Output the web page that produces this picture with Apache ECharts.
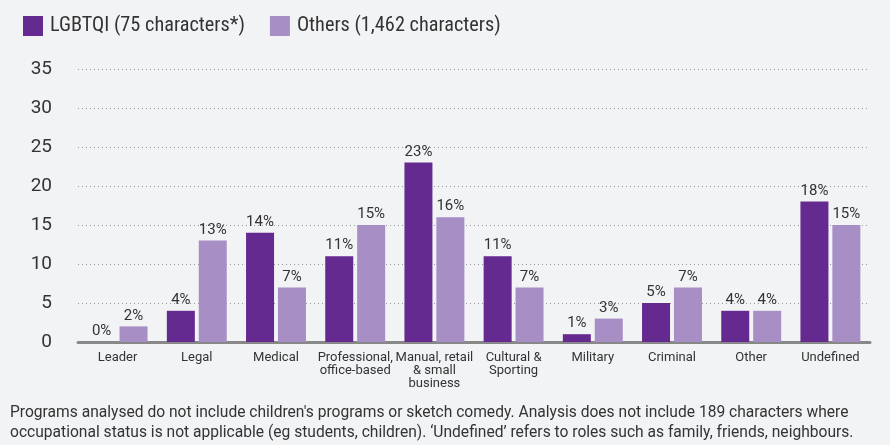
<!DOCTYPE html>
<html><head><meta charset="utf-8">
<script src="https://cdn.jsdelivr.net/npm/echarts@6/dist/echarts.min.js"></script>
<style>html,body{margin:0;padding:0;background:#f2f3f5;}#c{width:890px;height:445px;}</style>
</head><body><div id="c"></div>
<script>
const categories = ['Leader','Legal','Medical','Professional,\noffice-based','Manual, retail\n& small\nbusiness','Cultural &\nSporting','Military','Criminal','Other','Undefined'];
const lgbtqi = [0,4,14,11,23,11,1,5,4,18];
const others = [2,13,7,15,16,7,3,7,4,15];
const yTicks = [0,5,10,15,20,25,30,35];
const seriesNames = ['LGBTQI (75 characters*)','Others (1,462 characters)'];
const footnote = ["Programs analysed do not include children's programs or sketch comedy. Analysis does not include 189 characters where",
"occupational status is not applicable (eg students, children). \u2018Undefined\u2019 refers to roles such as family, friends, neighbours."];
const font = "Roboto,sans-serif";
const cfont = "'Roboto Condensed','Liberation Sans Narrow',Roboto,sans-serif";
const chart = echarts.init(document.getElementById('c'));
const lbl = {show:true, position:'top', formatter:'{c}%', color:'#333', fontSize:15, fontFamily:font, distance:3};
chart.setOption({
  backgroundColor:'#f2f3f5',
  animation:false,
  textStyle:{fontFamily:font},
  legend:{left:23, top:16, padding:0, itemWidth:20, itemHeight:20, itemGap:25, icon:'rect',
    textStyle:{fontSize:20.3, color:'#333', fontFamily:cfont, padding:[0,0,0,2]}, data:seriesNames},
  grid:{left:78, right:20, top:69, bottom:103},
  xAxis:{type:'category', data:categories,
    axisLine:{lineStyle:{color:'#888', width:3}}, axisTick:{show:false},
    axisLabel:{color:'#333', fontSize:13, lineHeight:13, margin:9, interval:0, fontFamily:font}},
  yAxis:{type:'value', min:yTicks[0], max:yTicks[yTicks.length-1], interval:5,
    axisLine:{show:false}, axisTick:{show:false},
    axisLabel:{color:'#333', fontSize:19, margin:26, fontFamily:font},
    splitLine:{lineStyle:{color:'#999', type:[1,3], width:1}}},
  series:[
    {name:seriesNames[0], type:'bar', data:lgbtqi, barWidth:28, barGap:'14%', itemStyle:{color:'#652a8f'}, label:lbl},
    {name:seriesNames[1], type:'bar', data:others, barWidth:28, barGap:'14%', itemStyle:{color:'#a78ec5'}, label:lbl}
  ],
  graphic:[
    {type:'text', left:10, top:403, style:{text:footnote.join('\n'), font:"15.6px "+font, fill:'#333', lineHeight:20}}
  ]
});
</script></body></html>
